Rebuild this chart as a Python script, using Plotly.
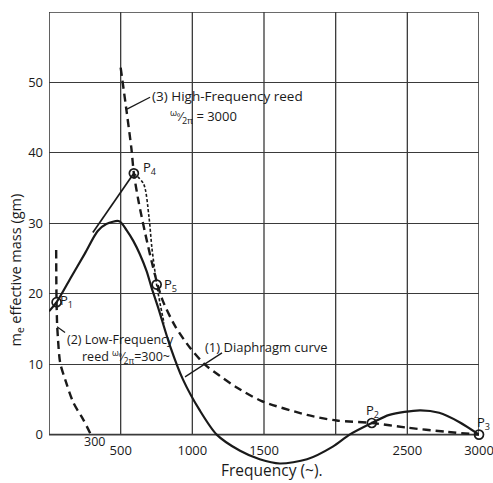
import plotly.graph_objects as go

# ---- data ----
diaphragm_f = [0, 53, 150, 250, 340, 400, 490, 542, 588, 634, 681, 715, 762, 846, 935, 1050, 1170,
               1333, 1470, 1610, 1800, 1980, 2097, 2252, 2375, 2587, 2722, 2861, 3000]
diaphragm_m = [17.5, 18.8, 22.2, 25.7, 28.9, 29.9, 30.3, 29.0, 27.5, 25.6, 23.2, 20.9, 18.0, 12.5, 7.8, 3.5, 0.0,
               -2.3, -3.5, -4.1, -3.5, -1.7, 0.0, 1.65, 2.8, 3.45, 3.1, 1.8, 0.0]

low_reed_f = [50, 52, 56, 62, 78, 113, 171, 240, 292]
low_reed_m = [26.2, 20.0, 16.0, 13.8, 10.2, 7.8, 4.5, 2.1, 0.0]

high_reed_f = [500, 542, 575, 592, 625, 672, 744, 792, 880, 985, 1090, 1195, 1310, 1480, 1800, 2007,
               2252, 2493, 2771, 3000]
high_reed_m = [52.1, 45.8, 40.6, 37.1, 33.1, 28.5, 22.3, 19.1, 15.4, 12.3, 9.9, 8.3, 6.7, 4.8, 2.8, 2.0,
               1.65, 1.0, 0.4, 0.0]

combined_f = [306, 592]
combined_m = [28.7, 37.1]

dotted_f = [592, 660, 697, 718, 740, 751, 775, 803]
dotted_m = [37.1, 35.6, 31.0, 26.5, 23.0, 21.3, 18.6, 15.8]

points_name = ["P<sub>1</sub>", "P<sub>4</sub>", "P<sub>5</sub>", "P<sub>2</sub>", "P<sub>3</sub>"]
points_f = [53, 592, 751, 2252, 3000]
points_m = [18.8, 37.1, 21.3, 1.65, 0.0]
label_f = [119, 705, 851, 2254, 2990]
label_m = [18.9, 37.9, 21.3, 3.3, 1.7]

x_tickvals = [500, 1000, 1500, 2000, 2500, 3000]
x_ticktext = ["500", "1000", "1500", "", "2500", "3000"]
y_tickvals = [0, 10, 20, 30, 40, 50]
grid_f = [500, 1000, 1500, 2000, 2500]

FONT = "Open Sans"
INK = "#1a1a1a"
GRID = "#3a3a3a"

fig = go.Figure()

fig.add_trace(go.Scatter(x=diaphragm_f, y=diaphragm_m, mode="lines",
                         line=dict(color=INK, width=2.2, shape="spline", smoothing=0.8)))
fig.add_trace(go.Scatter(x=low_reed_f, y=low_reed_m, mode="lines",
                         line=dict(color=INK, width=2.4, dash="8px,5px", shape="spline", smoothing=0.8)))
fig.add_trace(go.Scatter(x=high_reed_f, y=high_reed_m, mode="lines",
                         line=dict(color=INK, width=2.4, dash="8px,5px", shape="spline", smoothing=0.8)))
fig.add_trace(go.Scatter(x=combined_f, y=combined_m, mode="lines",
                         line=dict(color=INK, width=1.7)))
fig.add_trace(go.Scatter(x=dotted_f, y=dotted_m, mode="lines",
                         line=dict(color=INK, width=1.6, dash="3px,2px", shape="spline", smoothing=0.8)))
fig.add_trace(go.Scatter(x=points_f, y=points_m, mode="markers", cliponaxis=False,
                         marker=dict(symbol="circle-open", size=9, color=INK, line=dict(width=1.7))))

# frame and vertical grid (stop at the zero line)
fig.add_shape(type="rect", x0=0, x1=3000, y0=0, y1=60, xref="x", yref="y",
              line=dict(color=GRID, width=1.6), layer="below")
for g in grid_f:
    fig.add_shape(type="line", x0=g, x1=g, y0=0, y1=60, xref="x", yref="y",
                  line=dict(color=GRID, width=1.3), layer="below")

# leader lines
leaders = [((544, 46.2), (705, 47.9)), ((56, 15.3), (112, 14.5)), ((949, 8.2), (1207, 11.6))]
for (a, b) in leaders:
    fig.add_shape(type="line", x0=a[0], y0=a[1], x1=b[0], y1=b[1], xref="x", yref="y",
                  line=dict(color=INK, width=1.3))

ann = []
def A(x, y, t, xa="left", size=13, **kw):
    ann.append(dict(x=x, y=y, xref="x", yref="y", text=t, showarrow=False, xanchor=xa,
                    yanchor="middle", font=dict(family=FONT, size=size, color=INK), **kw))

A(705, 48.1, "(3) High-Frequency reed", size=13.5)
A(830, 45.2, "<sup>ω₀</sup>⁄<sub>2π</sub> = 3000", size=13)
A(112, 13.5, "(2) Low-Frequency", size=12.5)
A(216, 11.0, "reed <sup>ω₀</sup>⁄<sub>2π</sub>=300~", size=12.5)
A(1075, 12.4, "(1) Diaphragm curve", size=13)
for n, lf, lm in zip(points_name[:4], label_f[:4], label_m[:4]):
    A(lf, lm, n, xa="center", size=13)
A(314, -1.0, "300", xa="center", size=12.5)

ann.append(dict(x=(492 - 49) / 430, y=label_m[4], xref="paper", yref="y", text=points_name[4],
                showarrow=False, xanchor="right", yanchor="middle",
                font=dict(family=FONT, size=13, color=INK)))
ann.append(dict(x=1556, y=-0.006, xref="x", yref="paper", text="Frequency (~).", showarrow=False,
                xanchor="center", yanchor="middle", font=dict(family=FONT, size=15.5, color=INK)))
ann.append(dict(x=-0.075, y=23.4, xref="paper", yref="y", text="m<sub>e</sub> effective mass (gm)",
                showarrow=False, textangle=-90, xanchor="center", yanchor="middle",
                font=dict(family=FONT, size=14.5, color=INK)))

fig.update_layout(
    width=493, height=483,
    margin=dict(l=49, r=14, t=12, b=16, autoexpand=False),
    paper_bgcolor="white", plot_bgcolor="white",
    showlegend=False,
    annotations=ann,
    xaxis=dict(range=[0, 3000], tickvals=x_tickvals, ticktext=x_ticktext, showgrid=False,
               zeroline=False, showline=False, ticks="", anchor="free", position=4.6 / 64.6,
               ticklabeloverflow="allow", ticklabelstandoff=6, automargin=False,
               tickfont=dict(family=FONT, size=13, color=INK)),
    yaxis=dict(range=[-4.6, 60], tickvals=y_tickvals, showgrid=True, gridcolor=GRID, gridwidth=1.3,
               zeroline=False, showline=False, ticks="", ticklabelstandoff=5, automargin=False,
               tickfont=dict(family=FONT, size=13, color=INK)),
)

fig.write_html("out.html")
